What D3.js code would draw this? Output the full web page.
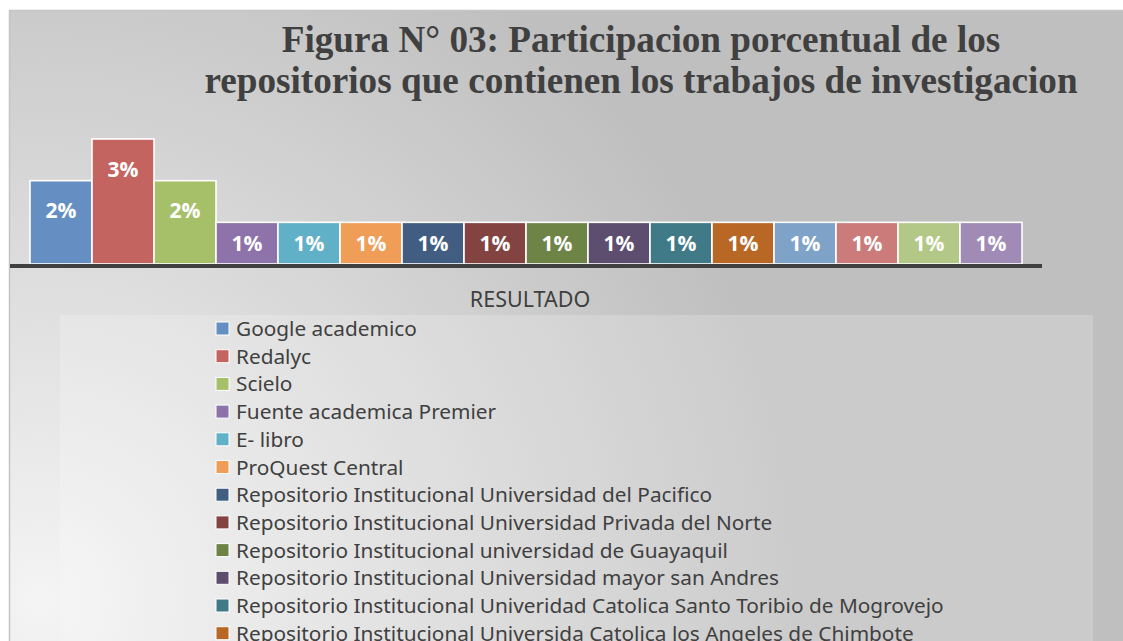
<!DOCTYPE html>
<html>
<head>
<meta charset="utf-8">
<script src="https://cdn.jsdelivr.net/npm/d3@7"></script>
<style>
  html, body { margin: 0; padding: 0; background: #fff; overflow: hidden; }
</style>
</head>
<body>
<div id="chart"></div>
<script>
const width = 1123
const height = 641

const titleLines = [
  'Figura N° 03: Participacion porcentual de los',
  'repositorios que contienen los trabajos de investigacion',
]
const axisTitle = 'RESULTADO'

const categories = [
  'Google academico',
  'Redalyc',
  'Scielo',
  'Fuente academica Premier',
  'E- libro',
  'ProQuest Central',
  'Repositorio Institucional Universidad del Pacifico',
  'Repositorio Institucional Universidad Privada del Norte',
  'Repositorio Institucional universidad de Guayaquil',
  'Repositorio Institucional Universidad mayor san Andres',
  'Repositorio Institucional Univeridad Catolica Santo Toribio de Mogrovejo',
  'Repositorio Institucional Universida Catolica los Angeles de Chimbote',
  'Repositorio 13',
  'Repositorio 14',
  'Repositorio 15',
  'Repositorio 16',
]
// percent values as labelled on the bars
const values = [2, 3, 2, 1, 1, 1, 1, 1, 1, 1, 1, 1, 1, 1, 1, 1]
const colors = [
  '#658fc2', '#c46461', '#a6c06a', '#8d73aa', '#60b0c8', '#f09d58',
  '#415e82', '#834441', '#6d8446', '#5d4d6e', '#3f7a86', '#b96725',
  '#7ea2c8', '#ca7b7a', '#b3c886', '#a08bb6',
]

const svg = d3
  .select('#chart')
  .append('svg')
  .attr('width', width)
  .attr('height', height)
  .style('display', 'block')

const defs = svg.append('defs')
const grad = defs
  .append('radialGradient')
  .attr('id', 'bg')
  .attr('gradientUnits', 'userSpaceOnUse')
  .attr('cx', 40)
  .attr('cy', 600)
  .attr('r', 760)
grad.append('stop').attr('offset', 0).attr('stop-color', '#f4f4f4')
grad.append('stop').attr('offset', 1).attr('stop-color', '#bfbfbf')

// chart area
svg
  .append('rect')
  .attr('x', 9.5)
  .attr('y', 10.5)
  .attr('width', width)
  .attr('height', height)
  .attr('fill', 'url(#bg)')
  .attr('stroke', '#c4c4c4')
  .attr('stroke-width', 1.5)

// title
svg
  .append('g')
  .selectAll('text')
  .data(titleLines)
  .join('text')
  .attr('x', 641)
  .attr('y', (d, i) => 52 + i * 41)
  .attr('text-anchor', 'middle')
  .attr('fill', '#404040')
  .style('font', 'bold 37.2px "Liberation Serif", "Times New Roman", serif')
  .text((d) => d)

const baseY = 264
const x = d3.scaleBand().domain(d3.range(values.length)).range([30, 1022]).padding(0)
const y = d3.scaleLinear().domain([0, 3]).range([baseY, baseY - 125])

const bars = svg.append('g')
bars
  .selectAll('rect')
  .data(values)
  .join('rect')
  .attr('x', (d, i) => x(i))
  .attr('y', (d) => y(d))
  .attr('width', x.bandwidth())
  .attr('height', (d) => baseY - y(d))
  .attr('fill', (d, i) => colors[i])
  .attr('stroke', '#fff')
  .attr('stroke-width', 1.6)

bars
  .selectAll('text')
  .data(values)
  .join('text')
  .attr('x', (d, i) => x(i) + x.bandwidth() / 2)
  .attr('y', (d) => Math.min((y(d) + baseY) / 2, y(d) + 30) + 7.5)
  .attr('text-anchor', 'middle')
  .attr('fill', '#fff')
  .style('font', 'bold 21px "Open Sans", "Noto Sans", sans-serif')
  .text((d) => d + '%')

// category axis line
svg
  .append('line')
  .attr('x1', 10)
  .attr('x2', 1042)
  .attr('y1', baseY + 2)
  .attr('y2', baseY + 2)
  .attr('stroke', '#404040')
  .attr('stroke-width', 4)

svg
  .append('text')
  .attr('x', 530)
  .attr('y', 307)
  .attr('text-anchor', 'middle')
  .attr('fill', '#404040')
  .style('font', '21.5px "Noto Sans", sans-serif')
  .text(axisTitle)

// legend
svg
  .append('rect')
  .attr('x', 60)
  .attr('y', 315)
  .attr('width', 1033)
  .attr('height', 500)
  .attr('fill', '#ffffff')
  .attr('fill-opacity', 0.2)

const rowH = 27.7
const legend = svg
  .append('g')
  .selectAll('g')
  .data(categories)
  .join('g')
  .attr('transform', (d, i) => `translate(216,${322 + i * rowH})`)

legend
  .append('rect')
  .attr('width', 13)
  .attr('height', 13)
  .attr('fill', (d, i) => colors[i])
  .attr('stroke', '#fff')
  .attr('stroke-width', 1)

legend
  .append('text')
  .attr('x', 20)
  .attr('y', 14)
  .attr('fill', '#404040')
  .style('font', '20.8px "Noto Sans", sans-serif')
  .text((d) => d)
</script>
</body>
</html>
